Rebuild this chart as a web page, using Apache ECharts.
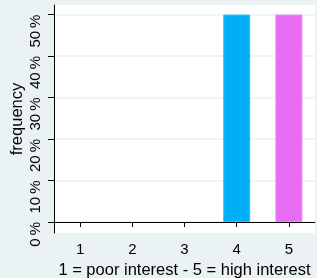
<!DOCTYPE html>
<html><head><meta charset="utf-8">
<script src="https://cdn.jsdelivr.net/npm/echarts@6/dist/echarts.min.js"></script>
<style>html,body{margin:0;padding:0;background:#EAF2F3}#c{width:317px;height:278px}</style>
</head><body><div id="c"></div>
<script>
var categories = ['1','2','3','4','5'];
var frequencyPct = [0, 0, 0, 50, 50];
var barColors = ['#F8766D','#A3A500','#00BF7D','#00B0F6','#E76BF3'];
var yTicks = [0, 10, 20, 30, 40, 50];
var xTitle = '1 = poor interest - 5 = high interest';
var yTitle = 'frequency';

var chart = echarts.init(document.getElementById('c'), null, {renderer:'canvas'});
var font = 'Liberation Sans, Arial, sans-serif';
chart.setOption({
  backgroundColor: '#EAF2F3',
  animation: false,
  grid: {left: 54, right: 2, top: 5, bottom: 45, show: true, backgroundColor: '#FFFFFF', borderWidth: 0,
    containLabel: false, outerBoundsMode: 'none'},
  xAxis: {
    type: 'category', data: categories, boundaryGap: true,
    axisLine: {show: true, lineStyle: {color: '#000', width: 1}},
    axisTick: {show: true, alignWithLabel: true, length: 5, lineStyle: {color: '#000'}},
    axisLabel: {color: '#000', fontSize: 15, fontFamily: font, margin: 9},
    splitLine: {show: false},
    name: xTitle, nameLocation: 'middle', nameGap: 28,
    nameTextStyle: {color: '#000', fontSize: 16.5, fontFamily: font}
  },
  yAxis: {
    type: 'value', min: -2.65, max: 52.3,
    axisLine: {show: true, lineStyle: {color: '#000', width: 1}},
    axisTick: {show: true, length: 6, customValues: yTicks, lineStyle: {color: '#000'}},
    axisLabel: {color: '#000', fontSize: 15, fontFamily: font, rotate: 90, margin: 11,
      customValues: yTicks, align: 'right', verticalAlign: 'bottom',
      formatter: function(v){ return v + '\u2009%'; }},
    splitLine: {show: true, lineStyle: {color: '#EAF2F3', width: 1.5}},
    name: yTitle, nameLocation: 'middle', nameGap: 28, nameRotate: 90, nameMoveOverlap: false,
    nameTextStyle: {color: '#000', fontSize: 16.5, fontFamily: font}
  },
  series: [{
    type: 'bar', barWidth: 27,
    data: frequencyPct.map(function(v, i){
      return {value: v, itemStyle: {color: barColors[i], borderColor: echarts.color.lift(barColors[i], 0.2), borderWidth: v > 0 ? 1 : 0}};
    })
  }]
});
</script></body></html>
